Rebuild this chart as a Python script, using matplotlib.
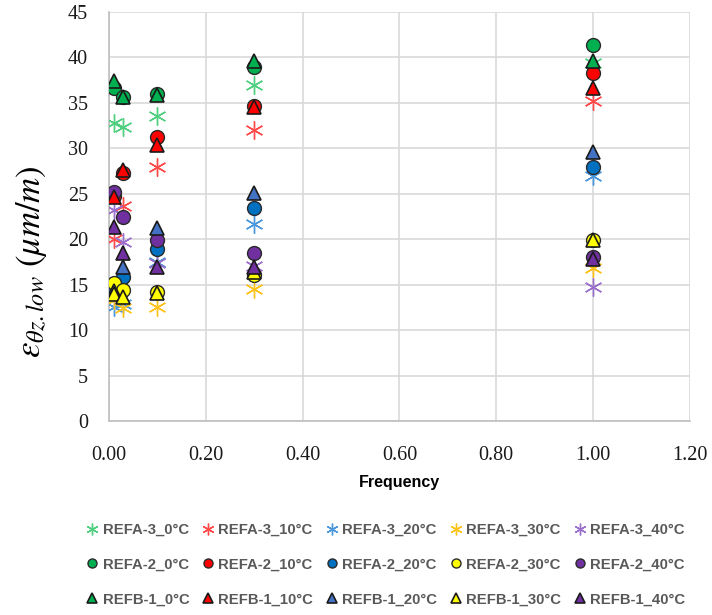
import matplotlib
matplotlib.use("Agg")
import matplotlib.pyplot as plt

plt.rcParams['mathtext.fontset'] = 'stix'

freq = [0.01, 0.03, 0.1, 0.3, 1.0]
temps = ["0°C", "10°C", "20°C", "30°C", "40°C"]

refa3 = {
    "0°C":  [32.8, 32.3, 33.6, 37.0, 39.4],
    "10°C": [20.0, 23.7, 27.9, 32.0, 35.2],
    "20°C": [12.6, 12.9, 17.5, 21.7, 27.0],
    "30°C": [13.3, 12.4, 12.6, 14.5, 16.8],
    "40°C": [23.2, 19.7, 17.4, 17.1, 14.8],
}
refa2 = {
    "0°C":  [36.6, 35.6, 36.0, 38.9, 41.4],
    "10°C": [24.8, 27.3, 31.2, 34.7, 38.3],
    "20°C": [14.8, 15.9, 18.9, 23.4, 27.9],
    "30°C": [15.2, 14.4, 14.2, 16.1, 19.9],
    "40°C": [25.2, 22.4, 19.9, 18.5, 18.1],
}
refb1 = {
    "0°C":  [37.4, 35.6, 35.9, 39.6, 39.6],
    "10°C": [24.6, 27.6, 30.4, 34.6, 36.6],
    "20°C": [14.3, 16.9, 21.2, 25.1, 29.6],
    "30°C": [14.0, 13.7, 14.1, 16.4, 19.9],
    "40°C": [21.4, 18.5, 17.0, 16.9, 17.8],
}
xtick_labels = ["0.00", "0.20", "0.40", "0.60", "0.80", "1.00", "1.20"]

star_col = {"0°C": "#4fcf7f", "10°C": "#ff4a4a", "20°C": "#4a97dc", "30°C": "#ffc21a", "40°C": "#9a70cc"}
circ_col = {"0°C": "#00b050", "10°C": "#ff0000", "20°C": "#0070c0", "30°C": "#ffff00", "40°C": "#7030a0"}
tri_col = {"0°C": "#00b050", "10°C": "#ff0000", "20°C": "#4472c4", "30°C": "#ffff00", "40°C": "#7030a0"}

fig = plt.figure(figsize=(7.12, 6.15), dpi=100)
ax = fig.add_axes([0.153, 0.3154, 0.816, 0.665])

handles = {}
for t in temps:
    h, = ax.plot(freq, refa3[t], linestyle='none', marker=(6, 2, 0), markersize=13,
                 markeredgecolor=star_col[t], markeredgewidth=1.0, color=star_col[t],
                 label="REFA-3_" + t, zorder=3)
    handles[("A3", t)] = h
for t in temps:
    h, = ax.plot(freq, refa2[t], linestyle='none', marker='o', markersize=10,
                 markerfacecolor=circ_col[t], markeredgecolor='#2a2a2a', markeredgewidth=1.0,
                 label="REFA-2_" + t, zorder=4)
    handles[("A2", t)] = h
for t in temps:
    h, = ax.plot(freq, refb1[t], linestyle='none', marker='^', markersize=10,
                 markerfacecolor=tri_col[t], markeredgecolor='#1a1a1a', markeredgewidth=1.2,
                 label="REFB-1_" + t, zorder=5)
    handles[("B1", t)] = h

ax.set_xlim(0, 1.2)
ax.set_ylim(0, 45)
ax.set_xticks([0, 0.2, 0.4, 0.6, 0.8, 1.0, 1.2])
ax.set_xticklabels(xtick_labels)
ax.set_yticks(range(0, 46, 5))
ax.grid(True, color='#d9d9d9', linewidth=1.2, zorder=0)
ax.set_axisbelow(True)
for s in ['top', 'right']:
    ax.spines[s].set_visible(False)
for s in ['left', 'bottom']:
    ax.spines[s].set_color('#bfbfbf')
    ax.spines[s].set_linewidth(1.2)
ax.tick_params(axis='x', length=0, pad=18)
ax.tick_params(axis='y', length=0, pad=15)
for lab in ax.get_xticklabels() + ax.get_yticklabels():
    lab.set_fontfamily('Liberation Serif')
    lab.set_fontsize(14.5)
    lab.set_color('#1a1a1a')

ax.set_xlabel("Frequency", fontsize=11.5, fontweight='bold', fontfamily='Liberation Sans', labelpad=7)
ax.set_ylabel(r"$\varepsilon_{\theta z.low}\ (\mu m/m)$", fontsize=25)
ax.yaxis.set_label_coords(-0.103, 0.39)

order = []
for t in temps:
    for s in ["A3", "A2", "B1"]:
        order.append(handles[(s, t)])
leg = fig.legend(handles=order, labels=[h.get_label() for h in order], ncol=5,
                 loc='center', bbox_to_anchor=(0.542, 0.082), frameon=False,
                 markerscale=0.65, handlelength=0.8, handletextpad=0.3,
                 columnspacing=0.85, labelspacing=1.4,
                 prop={'family': 'Liberation Sans', 'weight': 'bold', 'size': 10.7})
for txt in leg.get_texts():
    txt.set_color('#595959')

fig.savefig("out.png", dpi=100)
